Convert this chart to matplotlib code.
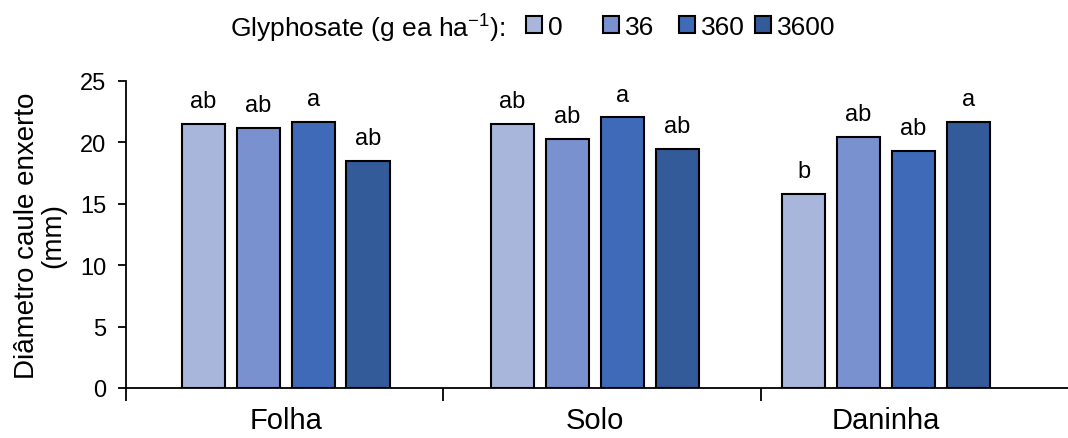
import numpy as np
import matplotlib.pyplot as plt

plt.rcParams['font.family'] = ['Liberation Sans', 'DejaVu Sans']
plt.rcParams['mathtext.fontset'] = 'custom'
plt.rcParams['mathtext.rm'] = 'Liberation Sans'

# data
groups = ["Folha", "Solo", "Daninha"]
doses = ["0", "36", "360", "3600"]
diam = {
    "0":    [21.5, 21.5, 15.8],
    "36":   [21.2, 20.3, 20.45],
    "360":  [21.7, 22.05, 19.3],
    "3600": [18.5, 19.5, 21.7],
}
letters = {
    "0":    ["ab", "ab", "b"],
    "36":   ["ab", "ab", "ab"],
    "360":  ["a", "a", "ab"],
    "3600": ["ab", "ab", "a"],
}
colors = ["#A8B6DB", "#7A91CF", "#3E6AB8", "#335A99"]

fig = plt.figure(figsize=(10.68, 4.39), dpi=100)
ax = fig.add_axes([126 / 1068, 50 / 439, 942 / 1068, 307 / 439])

# group centres (slightly uneven, as in the original)
x = np.array([0.0, 1.03, 2.0])
pitch = 0.183
width = 0.145
for i, d in enumerate(doses):
    pos = x + (i - 1.5) * pitch
    bars = ax.bar(pos, diam[d], width, color=colors[i], edgecolor="black",
                  linewidth=1.5, label=d, zorder=2)
    for b, lab in zip(bars, letters[d]):
        ax.annotate(lab, (b.get_x() + b.get_width() / 2, b.get_height()),
                    xytext=(0, 12), textcoords="offset points",
                    ha="center", va="baseline", fontsize=17)

ax.set_ylim(0, 25)
ax.set_yticks([0, 5, 10, 15, 20, 25])
ax.set_xlim(-0.533, 2.607)
ax.set_xticks(x)
ax.set_xticklabels(groups, fontsize=21)
ax.tick_params(axis="x", length=0, pad=13)
# category boundary ticks
ax.set_xticks([-0.533, 0.523, 1.583], minor=True)
ax.tick_params(axis="x", which="minor", length=9, width=1.3, direction="out")
ax.tick_params(axis="y", labelsize=17, length=6, width=1.3, direction="out", pad=8)

for s in ["top", "right"]:
    ax.spines[s].set_visible(False)
ax.spines["left"].set_linewidth(1.3)
ax.spines["bottom"].set_linewidth(1.3)

ax.set_ylabel("Diâmetro caule enxerto\n(mm)", fontsize=20, linespacing=1.0, labelpad=10)

ly = 1 - 28 / 439
fig.text(505 / 1068, ly, r"Glyphosate (g ea ha$^{-1}$):", fontsize=19,
         ha="right", va="center")
handles, labels = ax.get_legend_handles_labels()
for h, lab, lx in zip(handles, labels, [526, 603, 679, 755]):
    leg = fig.legend([h], [lab], loc="center left", bbox_to_anchor=(lx / 1068, ly),
                     frameon=False, fontsize=19, handlelength=0.6, handleheight=0.6,
                     handletextpad=0.25, borderaxespad=0, borderpad=0)

fig.savefig("out.png", dpi=100)
